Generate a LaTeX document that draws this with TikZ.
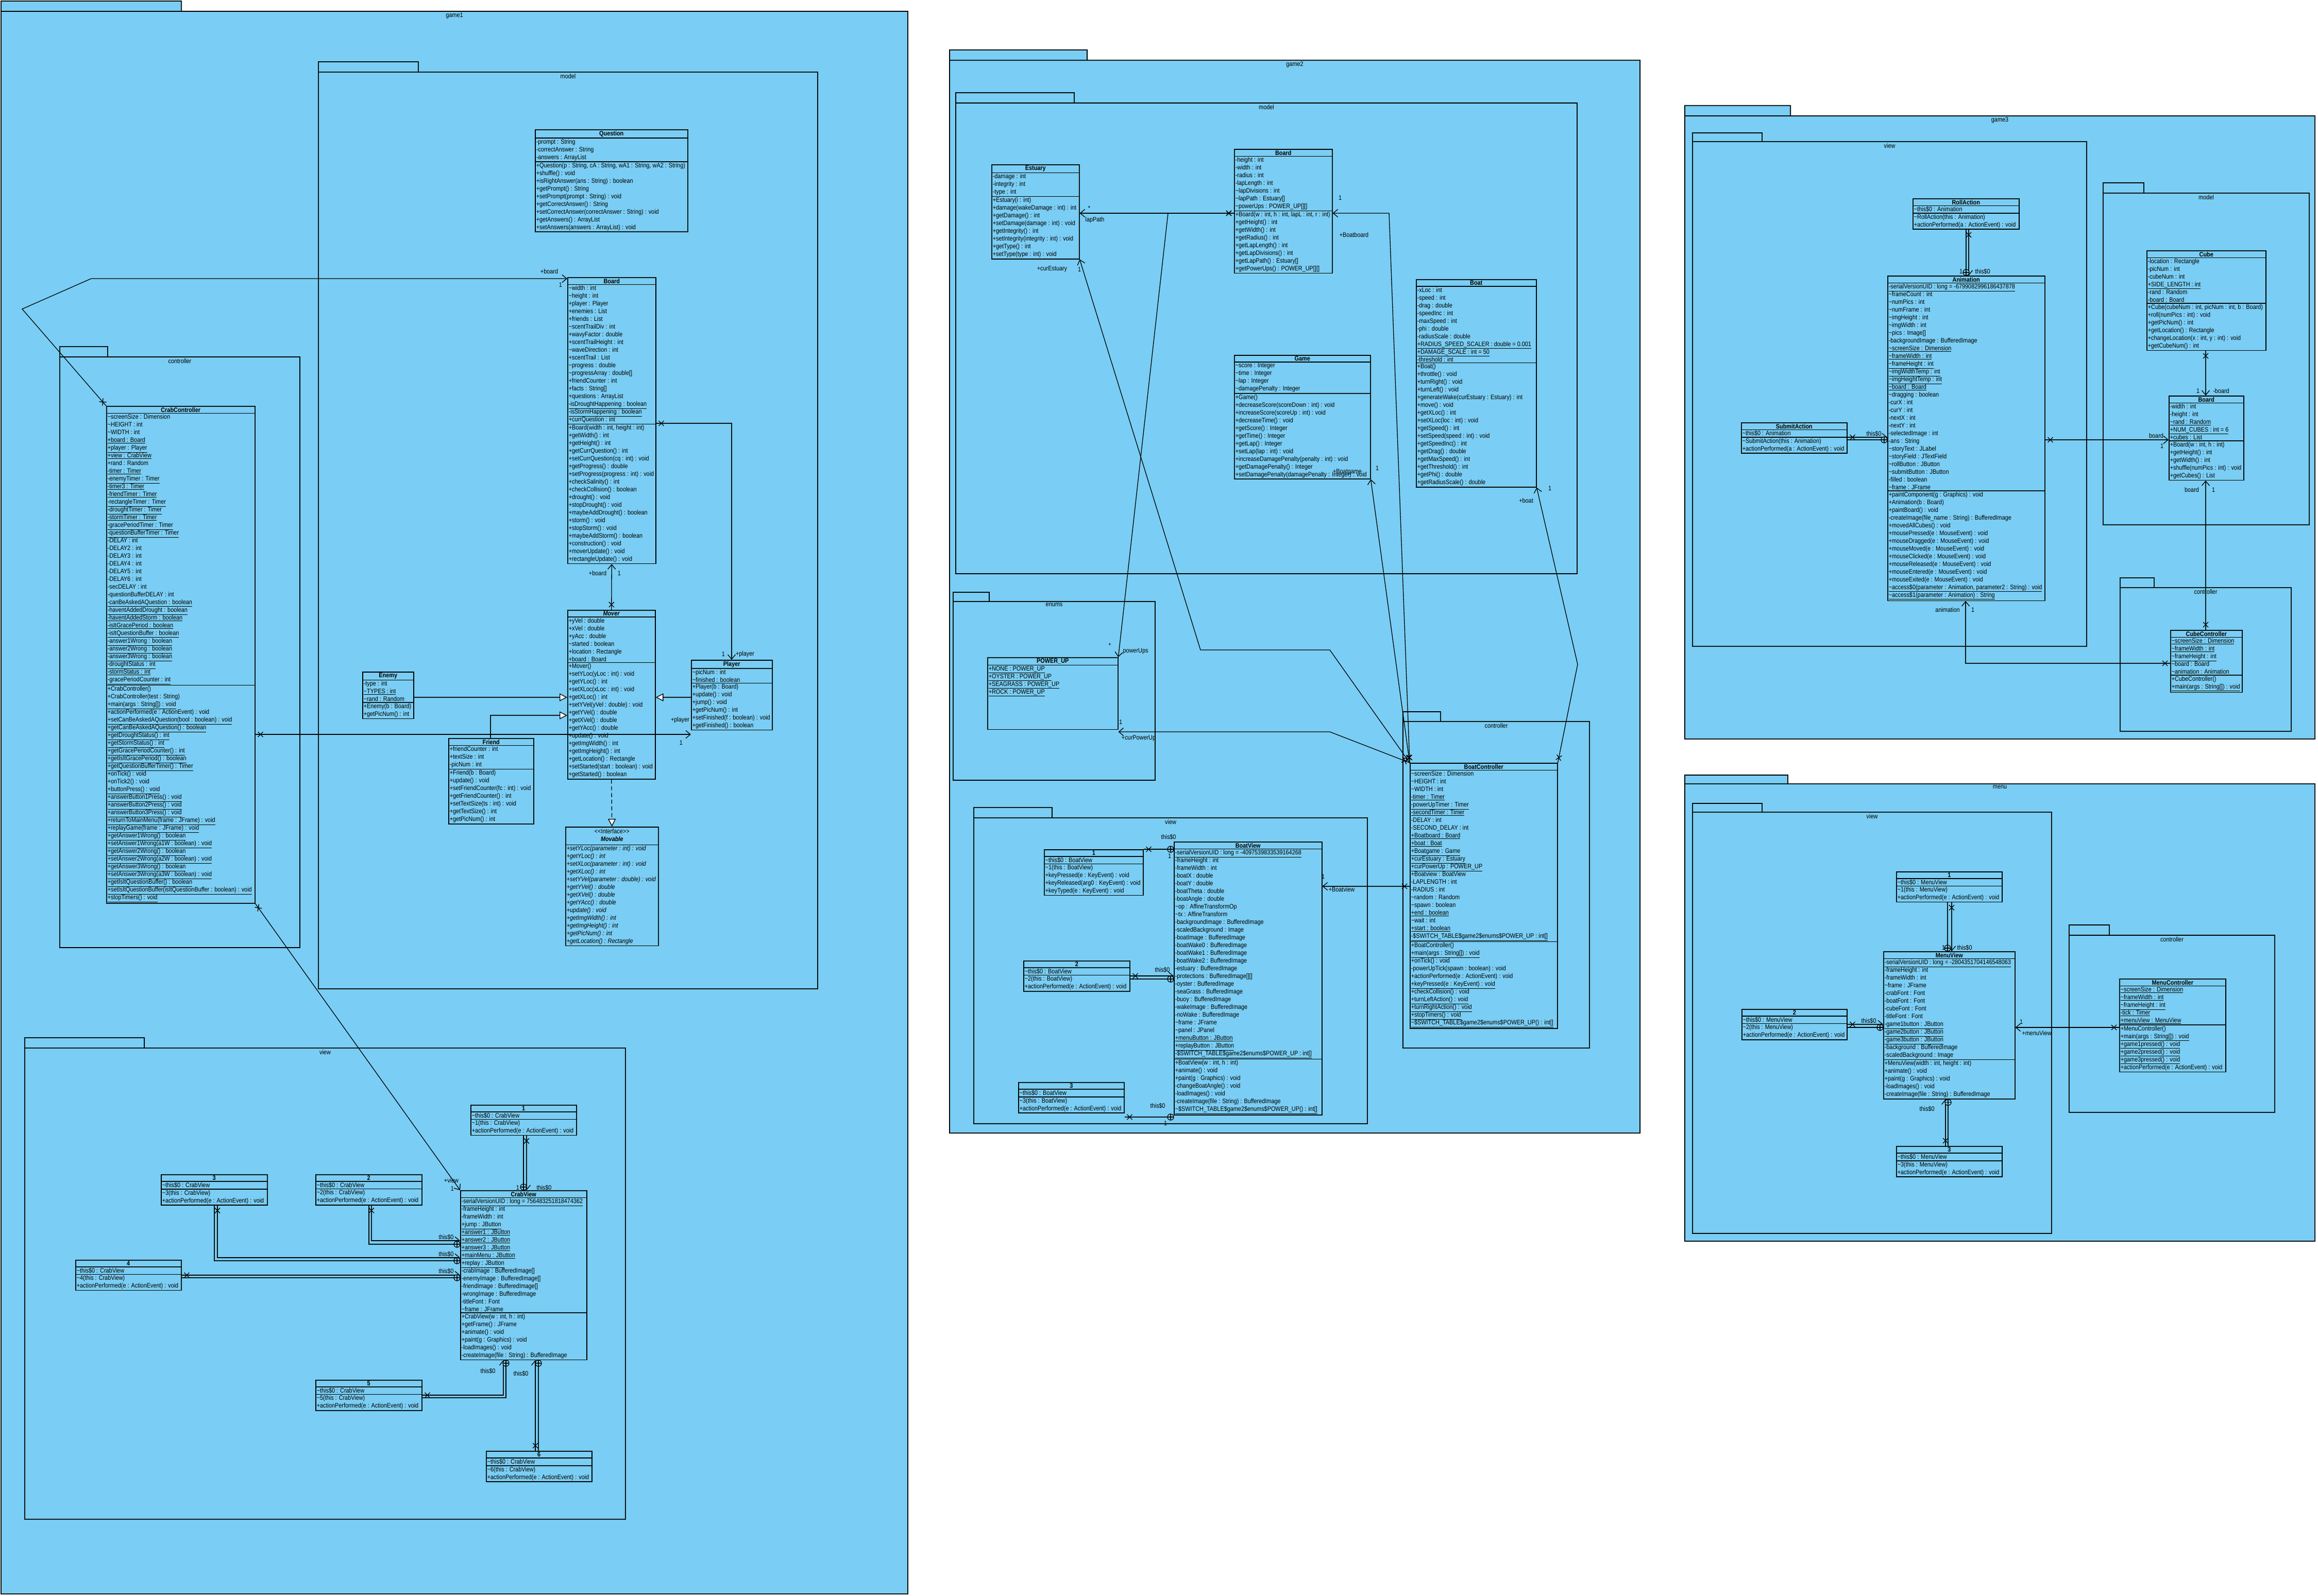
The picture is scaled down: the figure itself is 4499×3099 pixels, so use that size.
\documentclass[tikz,border=0pt]{standalone}
\usepackage{fontspec}
\newfontfamily\umlf[FakeStretch=0.87]{Liberation Sans}
\usetikzlibrary{shapes.multipart,arrows.meta,decorations.markings,calc}
\definecolor{pk}{RGB}{122,205,244}
\newcommand\uml{\umlf\fontsize{12.5}{15}\selectfont}
\newcommand\tld{\textasciitilde}
\newcommand\sta[1]{\underline{#1}}
\tikzset{
  pkgbox/.style={draw=black, fill=pk, line width=1.5pt},
  cls/.style={draw=black, fill=pk, line width=1.5pt, rectangle split, rectangle split parts=3,
    rectangle split part align={center,left,left}, anchor=north west, align=left,
    inner xsep=2pt, inner ysep=1.5pt, font=\uml},
  lbl/.style={font=\uml, inner sep=1pt},
  conn/.style={line width=1.3pt},
  assoc/.style={conn, -{Straight Barb[length=9pt,width=15pt,line width=1.3pt]}},
  xs/.style={postaction={decorate, decoration={markings, mark=at position 10pt with
     {\draw[-,solid,line width=1.3pt] (-5pt,-5pt)--(5pt,5pt) (-5pt,5pt)--(5pt,-5pt);}}}},
  nest/.style={conn, postaction={decorate, decoration={markings, mark=at position -6pt with
     {\draw[-,solid,line width=1.2pt,fill=pk] (0,0) circle (6pt);
      \draw[-,solid,line width=1.2pt] (-6pt,0)--(6pt,0) (0,-6pt)--(0,6pt);}}}},
  gen/.style={conn, -{Triangle[length=15pt,width=15pt,fill=white,line width=1.3pt]}},
  real/.style={gen, dash pattern=on 8pt off 5pt},
}
% class: [opts]{name}{x}{y}{w}{title}{attrs}{ops}
\newcommand\cls[8][]{\node[cls,minimum width=#5,#1] (#2) at (#3,#4) {\textbf{#6}\nodepart{two}#7\nodepart{three}#8};}
% inner class: {name}{x}{y}{w}{num}{outer}
\newcommand\incls[6]{\cls{#1}{#2}{#3}{#4}{#5}{\tld this\$0 : #6}{\tld#5(this : #6)\\+actionPerformed(e : ActionEvent) : void}}
% package: {name}{x1}{y1}{x2}{y2}{tabx2}{taby1}{label}
\newcommand\pkg[8]{\draw[pkgbox] (#2,#7) rectangle (#6,#3);
  \draw[pkgbox] (#2,#3) rectangle (#4,#5);
  \node[lbl, anchor=north] (#1) at ({(#2+#4)/2},{#3+2}) {#8};}
\newcommand\tlab[3]{\node[lbl] (#1) at (#2) {#3};}
\begin{document}
\begin{tikzpicture}[x=1pt,y=-1pt]
\fill[white] (0,0) rectangle (4499,3099);
\useasboundingbox (0,0) rectangle (4499,3099);
% ---------------- packages
\pkg{pgameone}{2}{22}{1762}{3095}{352}{2}{game1}
\pkg{pgonemodel}{618}{140}{1587}{1920}{812}{120}{model}
\pkg{pgonectrl}{116}{693}{582}{1840}{209}{673}{controller}
\pkg{pgoneview}{48}{2035}{1214}{2950}{280}{2015}{view}
\pkg{pgametwo}{1843}{117}{3183}{2200}{2110}{97}{game2}
\pkg{pgtwomodel}{1855}{200}{3061}{1114}{2085}{180}{model}
\pkg{pgtwoenums}{1850}{1168}{2242}{1515}{1920}{1150}{enums}
\pkg{pgtwoview}{1890}{1588}{2654}{2182}{2042}{1568}{view}
\pkg{pgtwoctrl}{2723}{1401}{3085}{2035}{2796}{1382}{controller}
\pkg{pgamethree}{3270}{225}{4493}{1435}{3475}{205}{game3}
\pkg{pgthreeview}{3285}{275}{4050}{1255}{3420}{258}{view}
\pkg{pgthreemodel}{4082}{375}{4482}{1019}{4161}{355}{model}
\pkg{pgthreectrl}{4115}{1141}{4447}{1420}{4181}{1122}{controller}
\pkg{pmenu}{3270}{1522}{4493}{2410}{3470}{1505}{menu}
\pkg{pmenuview}{3285}{1577}{3982}{2395}{3420}{1560}{view}
\pkg{pmenuctrl}{4016}{1816}{4415}{2160}{4094}{1796}{controller}

% ---------------- game1 model
\cls{question}{1038}{251}{296}{Question}
{-prompt : String\\-correctAnswer : String\\-answers : ArrayList}
{+Question(p : String, cA : String, wA1 : String, wA2 : String)\\+shuffle() : void\\+isRightAnswer(ans : String) : boolean\\+getPrompt() : String\\+setPrompt(prompt : String) : void\\+getCorrectAnswer() : String\\+setCorrectAnswer(correctAnswer : String) : void\\+getAnswers() : ArrayList\\+setAnswers(answers : ArrayList) : void}

\cls{boardone}{1101}{538}{171}{Board}
{\tld width : int\\\tld height : int\\+player : Player\\+enemies : List\\+friends : List\\\tld scentTrailDiv : int\\+wavyFactor : double\\+scentTrailHeight : int\\\tld waveDirection : int\\+scentTrail : List\\\tld progress : double\\\tld progressArray : double[]\\+friendCounter : int\\+facts : String[]\\+questions : ArrayList\\\sta{-isDroughtHappening : boolean}\\\sta{-isStormHappening : boolean}\\+currQuestion : int}
{+Board(width : int, height : int)\\+getWidth() : int\\+getHeight() : int\\+getCurrQuestion() : int\\+setCurrQuestion(cq : int) : void\\+getProgress() : double\\+setProgress(progress : int) : void\\+checkSalinity() : int\\+checkCollision() : boolean\\+drought() : void\\+stopDrought() : void\\+maybeAddDrought() : boolean\\+storm() : void\\+stopStorm() : void\\+maybeAddStorm() : boolean\\+construction() : void\\+moverUpdate() : void\\+rectangleUpdate() : void}

\cls{mover}{1101}{1184}{170}{\textit{Mover}}
{+yVel : double\\+xVel : double\\+yAcc : double\\\tld started : boolean\\+location : Rectangle\\+board : Board}
{+Mover()\\+setYLoc(yLoc : int) : void\\+getYLoc() : int\\+setXLoc(xLoc : int) : void\\+getXLoc() : int\\+setYVel(yVel : double) : void\\+getYVel() : double\\+getXVel() : double\\+getYAcc() : double\\+update() : void\\+getImgWidth() : int\\+getImgHeight() : int\\+getLocation() : Rectangle\\+setStarted(start : boolean) : void\\+getStarted() : boolean}

\cls{enemy}{703}{1304}{99}{Enemy}
{-type : int\\\sta{\tld TYPES : int}\\\tld rand : Random}
{+Enemy(b : Board)\\+getPicNum() : int}

\cls{friend}{870}{1433}{165}{Friend}
{+friendCounter : int\\+textSize : int\\-picNum : int}
{+Friend(b : Board)\\+update() : void\\+setFriendCounter(fc : int) : void\\+getFriendCounter() : int\\+setTextSize(ts : int) : void\\+getTextSize() : int\\+getPicNum() : int}

\cls{playerone}{1341}{1281}{157}{Player}
{\tld picNum : int\\\tld finished : boolean}
{+Player(b : Board)\\+update() : void\\+jump() : void\\+getPicNum() : int\\+setFinished(f : boolean) : void\\+getFinished() : boolean}

\node[cls, rectangle split parts=2, rectangle split part align={center,left}, minimum width=180] (movable) at (1097,1605)
{\begin{tabular}{@{}c@{}}<{}<Interface>{}>\\\textbf{\textit{Movable}}\end{tabular}
\nodepart{two}\itshape +setYLoc(parameter : int) : void\\\itshape +getYLoc() : int\\\itshape +setXLoc(parameter : int) : void\\\itshape +getXLoc() : int\\\itshape +setYVel(parameter : double) : void\\\itshape +getYVel() : double\\\itshape +getXVel() : double\\\itshape +getYAcc() : double\\\itshape +update() : void\\\itshape +getImgWidth() : int\\\itshape +getImgHeight() : int\\\itshape +getPicNum() : int\\\itshape +getLocation() : Rectangle};

% ---------------- game1 controller
\cls{crab}{206}{788}{288}{CrabController}
{\tld screenSize : Dimension\\\tld HEIGHT : int\\\tld WIDTH : int\\\sta{+board : Board}\\\sta{+player : Player}\\\sta{+view : CrabView}\\+rand : Random\\\sta{-timer : Timer}\\\sta{-enemyTimer : Timer}\\\sta{-timer3 : Timer}\\\sta{-friendTimer : Timer}\\\sta{-rectangleTimer : Timer}\\\sta{-droughtTimer : Timer}\\\sta{-stormTimer : Timer}\\\sta{-gracePeriodTimer : Timer}\\\sta{-questionBufferTimer : Timer}\\-DELAY : int\\-DELAY2 : int\\-DELAY3 : int\\-DELAY4 : int\\-DELAY5 : int\\-DELAY6 : int\\-secDELAY : int\\-questionBufferDELAY : int\\\sta{-canBeAskedAQuestion : boolean}\\\sta{-haventAddedDrought : boolean}\\\sta{-haventAddedStorm : boolean}\\\sta{-isItGracePeriod : boolean}\\\sta{-isItQuestionBuffer : boolean}\\\sta{-answer1Wrong : boolean}\\\sta{-answer2Wrong : boolean}\\\sta{-answer3Wrong : boolean}\\\sta{-droughtStatus : int}\\\sta{-stormStatus : int}\\\sta{-gracePeriodCounter : int}}
{+CrabController()\\+CrabController(test : String)\\\sta{+main(args : String[]) : void}\\+actionPerformed(e : ActionEvent) : void\\\sta{+setCanBeAskedAQuestion(bool : boolean) : void}\\\sta{+getCanBeAskedAQuestion() : boolean}\\\sta{+getDroughtStatus() : int}\\\sta{+getStormStatus() : int}\\\sta{+getGracePeriodCounter() : int}\\\sta{+getIsItGracePeriod() : boolean}\\\sta{+getQuestionBufferTimer() : Timer}\\+onTick() : void\\+onTick2() : void\\\sta{+buttonPress() : void}\\\sta{+answerButton1Press() : void}\\\sta{+answerButton2Press() : void}\\\sta{+answerButton3Press() : void}\\\sta{+returnToMainMenu(frame : JFrame) : void}\\\sta{+replayGame(frame : JFrame) : void}\\\sta{+getAnswer1Wrong() : boolean}\\\sta{+setAnswer1Wrong(a1W : boolean) : void}\\\sta{+getAnswer2Wrong() : boolean}\\\sta{+setAnswer2Wrong(a2W : boolean) : void}\\\sta{+getAnswer3Wrong() : boolean}\\\sta{+setAnswer3Wrong(a3W : boolean) : void}\\\sta{+getIsItQuestionBuffer() : boolean}\\\sta{+setIsItQuestionBuffer(isItQuestionBuffer : boolean) : void}\\\sta{+stopTimers() : void}}

% ---------------- game1 view
\cls{crabview}{893}{2311}{245}{CrabView}
{\sta{-serialVersionUID : long = 756483251818474362}\\-frameHeight : int\\-frameWidth : int\\\sta{+jump : JButton}\\\sta{+answer1 : JButton}\\\sta{+answer2 : JButton}\\\sta{+answer3 : JButton}\\\sta{+mainMenu : JButton}\\\sta{+replay : JButton}\\-crabImage : BufferedImage[]\\-enemyImage : BufferedImage[]\\-friendImage : BufferedImage[]\\-wrongImage : BufferedImage\\-titleFont : Font\\\tld frame : JFrame}
{+CrabView(w : int, h : int)\\+getFrame() : JFrame\\+animate() : void\\+paint(g : Graphics) : void\\-loadImages() : void\\-createImage(file : String) : BufferedImage}
\incls{cvone}{913}{2145}{205}{1}{CrabView}
\incls{cvtwo}{612}{2280}{206}{2}{CrabView}
\incls{cvthree}{312}{2280}{206}{3}{CrabView}
\incls{cvfour}{146}{2446}{205}{4}{CrabView}
\incls{cvfive}{612}{2679}{206}{5}{CrabView}
\incls{cvsix}{943}{2817}{205}{6}{CrabView}

% ---------------- game2 model
\cls{estuary}{1924}{319}{170}{Estuary}
{-damage : int\\-integrity : int\\-type : int}
{+Estuary(i : int)\\+damage(wakeDamage : int) : int\\+getDamage() : int\\+setDamage(damage : int) : void\\+getIntegrity() : int\\+setIntegrity(integrity : int) : void\\+getType() : int\\+setType(type : int) : void}

\cls{boardtwo}{2395}{289}{190}{Board}
{-height : int\\-width : int\\-radius : int\\-lapLength : int\\\tld lapDivisions : int\\\tld lapPath : Estuary[]\\\tld powerUps : POWER\_UP[][]}
{+Board(w : int, h : int, lapL : int, r : int)\\+getHeight() : int\\+getWidth() : int\\+getRadius() : int\\+getLapLength() : int\\+getLapDivisions() : int\\+getLapPath() : Estuary[]\\+getPowerUps() : POWER\_UP[][]}

\cls{game}{2395}{689}{264}{Game}
{\tld score : Integer\\\tld time : Integer\\\tld lap : Integer\\\tld damagePenalty : Integer}
{+Game()\\+decreaseScore(scoreDown : int) : void\\+increaseScore(scoreUp : int) : void\\+decreaseTime() : void\\+getScore() : Integer\\+getTime() : Integer\\+getLap() : Integer\\+setLap(lap : int) : void\\+increaseDamagePenalty(penalty : int) : void\\+getDamagePenalty() : Integer\\+setDamagePenalty(damagePenalty : Integer) : void}

\cls{boat}{2748}{542}{233}{Boat}
{-xLoc : int\\-speed : int\\-drag : double\\-speedInc : int\\-maxSpeed : int\\-phi : double\\-radiusScale : double\\\sta{+RADIUS\_SPEED\_SCALER : double = 0.001}\\\sta{+DAMAGE\_SCALE : int = 50}\\-threshold : int}
{+Boat()\\+throttle() : void\\+turnRight() : void\\+turnLeft() : void\\+generateWake(curEstuary : Estuary) : int\\+move() : void\\+getXLoc() : int\\+setXLoc(loc : int) : void\\+getSpeed() : int\\+setSpeed(speed : int) : void\\+getSpeedInc() : int\\+getDrag() : double\\+getMaxSpeed() : int\\+getThreshold() : int\\+getPhi() : double\\+getRadiusScale() : double}

\node[cls, rectangle split parts=2, rectangle split part align={center,left}, minimum width=253] (powerup) at (1916,1276)
{\textbf{POWER\_UP}\nodepart{two}\sta{+NONE : POWER\_UP}\\\sta{+OYSTER : POWER\_UP}\\\sta{+SEAGRASS : POWER\_UP}\\\sta{+ROCK : POWER\_UP}\\[52pt]\mbox{}};

% ---------------- game2 controller
\cls{bc}{2736}{1481}{286}{BoatController}
{\tld screenSize : Dimension\\\tld HEIGHT : int\\\tld WIDTH : int\\\sta{-timer : Timer}\\\sta{-powerUpTimer : Timer}\\\sta{-secondTimer : Timer}\\-DELAY : int\\-SECOND\_DELAY : int\\\sta{+Boatboard : Board}\\\sta{+boat : Boat}\\\sta{+Boatgame : Game}\\\sta{+curEstuary : Estuary}\\\sta{+curPowerUp : POWER\_UP}\\+Boatview : BoatView\\-LAPLENGTH : int\\-RADIUS : int\\\tld random : Random\\\tld spawn : boolean\\\sta{+end : boolean}\\\tld wait : int\\\sta{+start : boolean}\\\sta{-\$SWITCH\_TABLE\$game2\$enums\$POWER\_UP : int[]}}
{+BoatController()\\\sta{+main(args : String[]) : void}\\+onTick() : void\\-powerUpTick(spawn : boolean) : void\\+actionPerformed(e : ActionEvent) : void\\\sta{+keyPressed(e : KeyEvent) : void}\\+checkCollision() : void\\\sta{+turnLeftAction() : void}\\\sta{+turnRightAction() : void}\\\sta{+stopTimers() : void}\\\sta{\tld\$SWITCH\_TABLE\$game2\$enums\$POWER\_UP() : int[]}}

% ---------------- game2 view
\cls{boatview}{2278}{1634}{287}{BoatView}
{\sta{-serialVersionUID : long = -4097539833539164268}\\-frameHeight : int\\-frameWidth : int\\-boatX : double\\-boatY : double\\-boatTheta : double\\-boatAngle : double\\\tld op : AffineTransformOp\\\tld tx : AffineTransform\\-backgroundImage : BufferedImage\\-scaledBackground : Image\\-boatImage : BufferedImage\\-boatWake0 : BufferedImage\\-boatWake1 : BufferedImage\\-boatWake2 : BufferedImage\\-estuary : BufferedImage\\-protections : BufferedImage[][]\\-oyster : BufferedImage\\-seaGrass : BufferedImage\\-buoy : BufferedImage\\-wakeImage : BufferedImage\\-noWake : BufferedImage\\\tld frame : JFrame\\\tld panel : JPanel\\\sta{+menuButton : JButton}\\\sta{+replayButton : JButton}\\\sta{-\$SWITCH\_TABLE\$game2\$enums\$POWER\_UP : int[]}}
{+BoatView(w : int, h : int)\\+animate() : void\\+paint(g : Graphics) : void\\-changeBoatAngle() : void\\-loadImages() : void\\-createImage(file : String) : BufferedImage\\\sta{\tld\$SWITCH\_TABLE\$game2\$enums\$POWER\_UP() : int[]}}
\cls{bvone}{2026}{1649}{192}{1}
{\tld this\$0 : BoatView}
{\tld 1(this : BoatView)\\+keyPressed(e : KeyEvent) : void\\+keyReleased(arg0 : KeyEvent) : void\\+keyTyped(e : KeyEvent) : void}
\incls{bvtwo}{1986}{1865}{206}{2}{BoatView}
\incls{bvthree}{1976}{2101}{205}{3}{BoatView}

% ---------------- game3 view
\cls{anim}{3663}{535}{305}{Animation}
{\sta{-serialVersionUID : long = -6799082996186437878}\\\tld frameCount : int\\\tld numPics : int\\\tld numFrame : int\\\tld imgHeight : int\\\tld imgWidth : int\\\tld pics : Image[]\\-backgroundImage : BufferedImage\\\sta{\tld screenSize : Dimension}\\\sta{\tld frameWidth : int}\\\sta{\tld frameHeight : int}\\\sta{\tld imgWidthTemp : int}\\\sta{\tld imgHeightTemp : int}\\\sta{\tld board : Board}\\\tld dragging : boolean\\-curX : int\\-curY : int\\-nextX : int\\-nextY : int\\-selectedImage : int\\-ans : String\\\tld storyText : JLabel\\\tld storyField : JTextField\\\tld rollButton : JButton\\\tld submitButton : JButton\\-filled : boolean\\\tld frame : JFrame}
{+paintComponent(g : Graphics) : void\\+Animation(b : Board)\\+paintBoard() : void\\-createImage(file\_name : String) : BufferedImage\\+movedAllCubes() : void\\+mousePressed(e : MouseEvent) : void\\+mouseDragged(e : MouseEvent) : void\\+mouseMoved(e : MouseEvent) : void\\+mouseClicked(e : MouseEvent) : void\\+mouseReleased(e : MouseEvent) : void\\+mouseEntered(e : MouseEvent) : void\\+mouseExited(e : MouseEvent) : void\\\sta{\tld access\$0(parameter : Animation, parameter2 : String) : void}\\\sta{\tld access\$1(parameter : Animation) : String}}
\cls{roll}{3712}{385}{206}{RollAction}
{\tld this\$0 : Animation}
{\tld RollAction(this : Animation)\\+actionPerformed(a : ActionEvent) : void}
\cls{submit}{3379}{820}{205}{SubmitAction}
{\tld this\$0 : Animation}
{\tld SubmitAction(this : Animation)\\+actionPerformed(a : ActionEvent) : void}

% ---------------- game3 model / controller
\cls{cube}{4166}{486}{231}{Cube}
{-location : Rectangle\\-picNum : int\\-cubeNum : int\\\sta{+SIDE\_LENGTH : int}\\-rand : Random\\-board : Board}
{+Cube(cubeNum : int, picNum : int, b : Board)\\+roll(numPics : int) : void\\+getPicNum() : int\\+getLocation() : Rectangle\\+changeLocation(x : int, y : int) : void\\+getCubeNum() : int}
\cls{boardthree}{4209}{768}{145}{Board}
{-width : int\\-height : int\\\sta{\tld rand : Random}\\\sta{+NUM\_CUBES : int = 6}\\+cubes : List}
{+Board(w : int, h : int)\\+getHeight() : int\\+getWidth() : int\\+shuffle(numPics : int) : void\\+getCubes() : List}
\cls{cubec}{4212}{1223}{139}{CubeController}
{\sta{\tld screenSize : Dimension}\\\sta{\tld frameWidth : int}\\\sta{\tld frameHeight : int}\\\tld board : Board\\\tld animation : Animation}
{+CubeController()\\\sta{+main(args : String[]) : void}}

% ---------------- menu
\cls{menuview}{3655}{1847}{255}{MenuView}
{\sta{-serialVersionUID : long = -2804351704146548063}\\-frameHeight : int\\-frameWidth : int\\\tld frame : JFrame\\-crabFont : Font\\-boatFont : Font\\-cubeFont : Font\\-titleFont : Font\\\sta{-game1button : JButton}\\\sta{-game2button : JButton}\\\sta{-game3button : JButton}\\-background : BufferedImage\\-scaledBackground : Image}
{+MenuView(width : int, height : int)\\+animate() : void\\+paint(g : Graphics) : void\\-loadImages() : void\\-createImage(file : String) : BufferedImage}
\incls{mvone}{3680}{1692}{205}{1}{MenuView}
\incls{mvtwo}{3380}{1959}{204}{2}{MenuView}
\incls{mvthree}{3680}{2225}{205}{3}{MenuView}
\cls{mc}{4113}{1900}{206}{MenuController}
{\sta{\tld screenSize : Dimension}\\\sta{\tld frameWidth : int}\\\sta{\tld frameHeight : int}\\\sta{-tick : Timer}\\\sta{+menuView : MenuView}}
{+MenuController()\\\sta{+main(args : String[]) : void}\\\sta{+game1pressed() : void}\\\sta{+game2pressed() : void}\\\sta{+game3pressed() : void}\\+actionPerformed(e : ActionEvent) : void}

% ================= connectors: game1
\draw[assoc,xs] (crab.north west) -- (43,600) -- (177,541) -- (boardone.west |- 0,541);
\tlab{la1}{1066,527}{+board}\tlab{la2}{1088,553}{1}
\draw[assoc,xs] (crab.east |- 0,1426) -- (playerone.west |- 0,1426);
\tlab{la3}{1320,1398}{+player}\tlab{la4}{1322,1442}{1}
\draw[assoc,xs] (boardone.east |- 0,822) -- (1420,822) -- (playerone.north -| 1420,0);
\tlab{la5}{1404,1270}{1}\tlab{la6}{1446,1270}{+player}
\draw[assoc,xs] (mover.north) -- (boardone.south);
\tlab{la7}{1160,1113}{+board}\tlab{la8}{1202,1113}{1}
\draw[gen] (enemy.east |- 0,1354) -- (mover.west |- 0,1354);
\draw[gen] (friend.north -| 952,0) -- (952,1389) -- (mover.west |- 0,1389);
\draw[gen] (playerone.west |- 0,1354) -- (mover.east |- 0,1354);
\draw[real] (mover.south) -- (movable.north);
\draw[assoc,xs] (crab.south east) -- (crabview.north west);
\tlab{la9}{876,2292}{+view}\tlab{la10}{878,2308}{1}
% nested classes of CrabView
\draw[assoc,xs] (cvone.south -| 1022,0) -- (crabview.north -| 1022,0);
\draw[nest] (cvone.south -| 1016,0) -- (crabview.north -| 1016,0);
\tlab{la11}{1005,2306}{1}\tlab{la12}{1056,2306}{this\$0}
\draw[assoc,xs] (cvtwo.south -| 721,0) -- (721,2409) -- (crabview.west |- 0,2409);
\draw[nest] (cvtwo.south -| 716,0) -- (716,2416) -- (crabview.west |- 0,2416);
\draw[assoc,xs] (cvthree.south -| 422,0) -- (422,2442) -- (crabview.west |- 0,2442);
\draw[nest] (cvthree.south -| 416,0) -- (416,2448) -- (crabview.west |- 0,2448);
\draw[assoc,xs] (cvfour.east |- 0,2476) -- (crabview.west |- 0,2476);
\draw[nest] (cvfour.east |- 0,2481) -- (crabview.west |- 0,2481);
\tlab{la13}{866,2402}{this\$0}\tlab{la14}{866,2435}{this\$0}\tlab{la15}{866,2468}{this\$0}
\draw[assoc,xs] (cvfive.east |- 0,2709) -- (977,2709) -- (crabview.south -| 977,0);
\draw[nest] (cvfive.east |- 0,2714) -- (982,2714) -- (crabview.south -| 982,0);
\tlab{la16}{947,2662}{this\$0}
\draw[assoc,xs] (cvsix.north -| 1039,0) -- (crabview.south -| 1039,0);
\draw[nest] (cvsix.north -| 1045,0) -- (crabview.south -| 1045,0);
\tlab{la17}{1011,2667}{this\$0}

% ================= connectors: game2
\draw[assoc,xs] (boardtwo.west |- 0,414) -- (estuary.east |- 0,414);
\tlab{lb1}{2114,404}{*}\tlab{lb2}{2125,427}{lapPath}
\draw[assoc,xs] (boardtwo.west |- 0,414) -- (2267,414) -- (powerup.north east);
\tlab{lb3}{2154,1253}{*}\tlab{lb4}{2204,1264}{powerUps}
\draw[assoc,xs] (bc.north west) -- (2696,414) -- (boardtwo.east |- 0,414);
\tlab{lb5}{2601,384}{1}\tlab{lb6}{2628,456}{+Boatboard}
\draw[assoc,xs] (bc.north west) -- (game.south east);
\tlab{lb7}{2615,916}{+Boatgame}\tlab{lb8}{2673,909}{1}
\draw[assoc,xs] (bc.north west) -- (2581,1262) -- (2330,1262) -- (estuary.south east);
\tlab{lb9}{2042,522}{+curEstuary}\tlab{lb10}{2095,523}{1}
\draw[assoc,xs] (bc.north west) -- (2581,1421) -- (powerup.east |- 0,1421);
\tlab{lb11}{2175,1402}{1}\tlab{lb12}{2210,1433}{+curPowerUp}
\draw[assoc,xs] (bc.north east) -- (3062,1290) -- (boat.south east);
\tlab{lb13}{2962,972}{+boat}\tlab{lb14}{3008,948}{1}
\draw[assoc,xs] (bc.west |- 0,1721) -- (boatview.east |- 0,1721);
\tlab{lb15}{2568,1702}{1}\tlab{lb16}{2604,1727}{+Boatview}
% nested classes of BoatView
\draw[nest,xs] (bvone.north east) -- (boatview.west |- bvone.north east);
\tlab{lb17}{2268,1625}{this\$0}\tlab{lb18}{2270,1662}{1}
\draw[assoc,xs] (bvtwo.east |- 0,1895) -- (boatview.west |- 0,1895);
\draw[nest] (bvtwo.east |- 0,1901) -- (boatview.west |- 0,1901);
\tlab{lb19}{2256,1883}{this\$0}
\draw[nest,xs] (bvthree.east |- 0,2169) -- (boatview.west |- 0,2169);
\tlab{lb20}{2247,2147}{this\$0}\tlab{lb21}{2262,2181}{1}

% ================= connectors: game3
\draw[assoc,xs] (roll.south -| 3821,0) -- (anim.north -| 3821,0);
\draw[nest] (roll.south -| 3816,0) -- (anim.north -| 3816,0);
\tlab{lc1}{3806,527}{1}\tlab{lc2}{3848,527}{this\$0}
\draw[assoc,xs] (submit.east |- 0,849) -- (anim.west |- 0,849);
\draw[nest] (submit.east |- 0,854) -- (anim.west |- 0,854);
\tlab{lc3}{3637,842}{this\$0}
\draw[assoc,xs] (anim.east |- 0,854) -- (boardthree.west |- 0,854);
\tlab{lc4}{4185,846}{board}\tlab{lc5}{4196,866}{1}
\draw[assoc,xs] (cube.south -| 4281,0) -- (boardthree.north -| 4281,0);
\tlab{lc6}{4266,759}{1}\tlab{lc7}{4311,759}{-board}
\draw[assoc,xs] (cubec.north -| 4281,0) -- (boardthree.south -| 4281,0);
\tlab{lc8}{4254,951}{board}\tlab{lc9}{4296,951}{1}
\draw[assoc,xs] (cubec.west |- 0,1288) -- (3815,1288) -- (anim.south -| 3815,0);
\tlab{lc10}{3780,1184}{animation}\tlab{lc11}{3829,1184}{1}

% ================= connectors: menu
\draw[assoc,xs] (mvone.south -| 3788,0) -- (menuview.north -| 3788,0);
\draw[nest] (mvone.south -| 3780,0) -- (menuview.north -| 3780,0);
\tlab{ld1}{3772,1840}{1}\tlab{ld2}{3813,1840}{this\$0}
\draw[assoc,xs] (mvtwo.east |- 0,1989) -- (menuview.west |- 0,1989);
\draw[nest] (mvtwo.east |- 0,1995) -- (menuview.west |- 0,1995);
\tlab{ld3}{3627,1982}{this\$0}
\draw[assoc,xs] (mvthree.north -| 3776,0) -- (menuview.south -| 3776,0);
\draw[nest] (mvthree.north -| 3781,0) -- (menuview.south -| 3781,0);
\tlab{ld4}{3740,2153}{this\$0}
\draw[assoc,xs] (mc.west |- 0,1995) -- (menuview.east |- 0,1995);
\tlab{ld5}{3923,1984}{1}\tlab{ld6}{3953,2006}{+menuView}
\end{tikzpicture}
\end{document}
